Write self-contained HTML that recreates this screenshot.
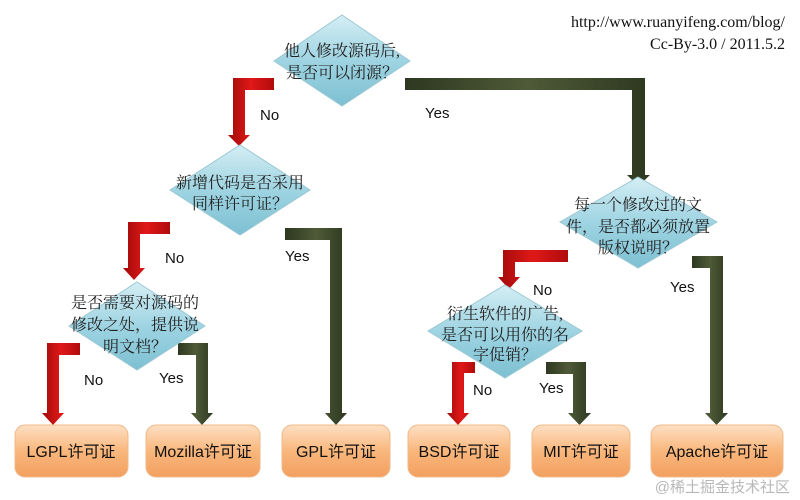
<!DOCTYPE html>
<html><head><meta charset="utf-8"><style>
html,body{margin:0;padding:0;background:#fff;}
svg{display:block;}
.cj{font-family:"Liberation Serif","Noto Serif CJK SC","Noto Sans CJK SC",serif;font-size:16px;fill:#222;}
.lb{font-family:"Liberation Sans",sans-serif;font-size:15px;fill:#111;}
.bx{font-family:"Liberation Sans","Noto Sans CJK SC",sans-serif;font-size:16px;fill:#111;}
</style></head><body>
<svg width="800" height="500" viewBox="0 0 800 500" xmlns="http://www.w3.org/2000/svg">
<defs>
<linearGradient id="red" x1="0" y1="0" x2="1" y2="0"><stop offset="0" stop-color="#a00a0a"/><stop offset="0.5" stop-color="#e01818"/><stop offset="1" stop-color="#b00c0c"/></linearGradient>
<linearGradient id="grn" x1="0" y1="0" x2="1" y2="0"><stop offset="0" stop-color="#2e3820"/><stop offset="0.5" stop-color="#4f5a38"/><stop offset="1" stop-color="#2e3820"/></linearGradient>
<linearGradient id="dia" x1="0" y1="0" x2="0" y2="1"><stop offset="0" stop-color="#d4eef4"/><stop offset="0.5" stop-color="#9fd4e2"/><stop offset="1" stop-color="#7cc0d2"/></linearGradient>
<linearGradient id="box" x1="0" y1="0" x2="0" y2="1"><stop offset="0" stop-color="#fde0c4"/><stop offset="0.5" stop-color="#f9b77c"/><stop offset="1" stop-color="#f2a060"/></linearGradient>
</defs>
<g fill="url(#red)">
<polygon points="274,78 233,78 233,135 228,135 239,146 250,135 245,135 245,90 274,90"/>
<polygon points="170,222 128,222 128,268 123,268 134,280 145,268 140,268 140,234 170,234"/>
<polygon points="80,343 47,343 47,413 42,413 53,425 64,413 59,413 59,355 80,355"/>
<polygon points="568,250 503,250 503,277 498,277 509,289 520,277 515,277 515,262 568,262"/>
<polygon points="475,362 452,362 452,413 447,413 458,425 469,413 464,413 464,373 475,373"/>
</g>
<g fill="url(#grn)">
<polygon points="405,78 645,78 645,175 650,175 638.5,186 627,175 632,175 632,90 405,90"/>
<polygon points="285,228 342,228 342,413 347,413 336,425 325,413 330,413 330,240 285,240"/>
<polygon points="178,343 208,343 208,413 213,413 202,425 191,413 196,413 196,355 178,355"/>
<polygon points="692,256 723,256 723,413 728,413 716.5,425 705,413 710,413 710,268 692,268"/>
<polygon points="546,362 586,362 586,413 591,413 579.5,425 568,413 573,413 573,374 546,374"/>
</g>
<g fill="url(#dia)" stroke="#9cc8d4" stroke-width="1">
<polygon points="342,15 410,61 342,106 274,61"/>
<polygon points="240,145 310,190 240,235 170,190"/>
<polygon points="137,282 205,326 137,370 69,326"/>
<polygon points="638,177 717,222 638,268 560,222"/>
<polygon points="505,285 582,331 505,378 428,331"/>
</g>
<g class="cj" text-anchor="middle">
<text x="342" y="56">他人修改源码后,</text><text x="342" y="78">是否可以闭源？</text>
<text x="240" y="188">新增代码是否采用</text><text x="240" y="209">同样许可证？</text>
<text x="135" y="308">是否需要对源码的</text><text x="135" y="330">修改之处，提供说</text><text x="135" y="352">明文档？</text>
<text x="638" y="210">每一个修改过的文</text><text x="638" y="232">件，是否都必须放置</text><text x="638" y="253">版权说明？</text>
<text x="505" y="319">衍生软件的广告,</text><text x="505" y="340">是否可以用你的名</text><text x="505" y="360">字促销？</text>
</g>
<g class="lb">
<text x="260" y="120">No</text><text x="425" y="118">Yes</text>
<text x="165" y="263">No</text><text x="285" y="261">Yes</text>
<text x="84" y="385">No</text><text x="159" y="383">Yes</text>
<text x="533" y="295">No</text><text x="670" y="292">Yes</text>
<text x="473" y="395">No</text><text x="539" y="393">Yes</text>
</g>
<g fill="url(#box)" stroke="#f0b888" stroke-width="1">
<rect x="15" y="425" width="113" height="52" rx="10"/>
<rect x="146" y="425" width="114" height="52" rx="10"/>
<rect x="282" y="425" width="108" height="52" rx="10"/>
<rect x="408" y="425" width="102" height="52" rx="10"/>
<rect x="532" y="425" width="98" height="52" rx="10"/>
<rect x="651" y="425" width="132" height="52" rx="10"/>
</g>
<g class="bx" text-anchor="middle">
<text x="71" y="457">LGPL许可证</text>
<text x="203" y="457">Mozilla许可证</text>
<text x="336" y="457">GPL许可证</text>
<text x="459" y="457">BSD许可证</text>
<text x="581" y="457">MIT许可证</text>
<text x="717" y="457">Apache许可证</text>
</g>
<g font-family="Liberation Serif,serif" font-size="16" fill="#111" text-anchor="end">
<text x="785" y="27">http://www.ruanyifeng.com/blog/</text>
<text x="785" y="49">Cc-By-3.0 / 2011.5.2</text>
</g>
<text x="790" y="492" text-anchor="end" font-family="Liberation Sans,Noto Sans CJK SC,sans-serif" font-size="15" fill="#b8b8b8">@稀土掘金技术社区</text>
</svg>
</body></html>
